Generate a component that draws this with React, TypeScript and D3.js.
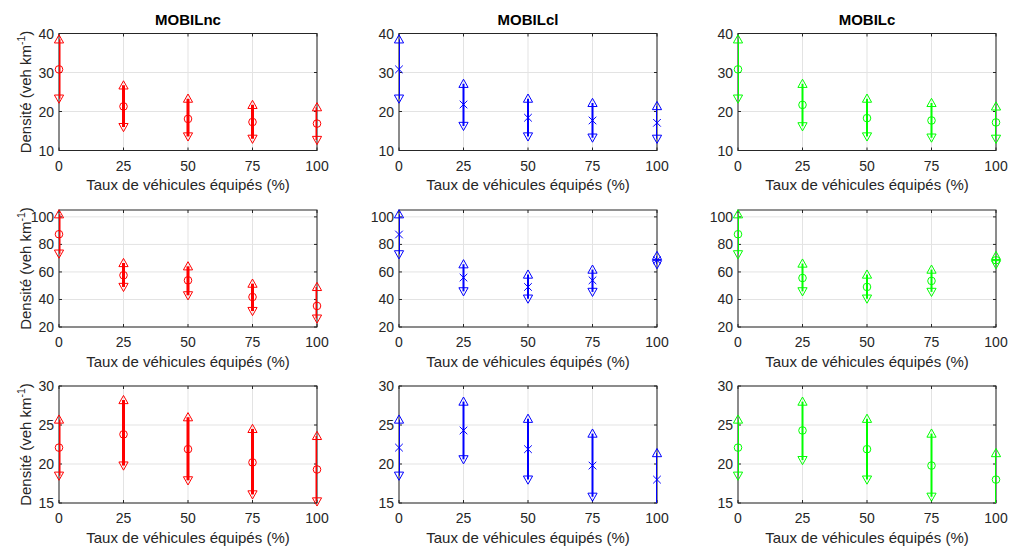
import React from "react";
import * as d3 from "d3";

// ---------- data ----------
const xValues = [0, 25, 50, 75, 100];
const xTicks = [0, 25, 50, 75, 100];
const modelNames = ["MOBILnc", "MOBILcl", "MOBILc"];
const modelColors = ["#ff0000", "#0000ff", "#00ff00"];
const modelCenterMarker = ["circle", "x", "circle"];

// row 1 (y 10..40)
const row1Domain = [10, 40];
const row1Ticks = [10, 20, 30, 40];
const r1_nc_upper = [38.5, 26.7, 23.3, 21.7, 21.1];
const r1_nc_mean = [30.8, 21.3, 18.1, 17.3, 16.9];
const r1_nc_lower = [23.3, 16.0, 13.6, 13.0, 12.7];
const r1_cl_upper = [38.5, 27.1, 23.3, 22.2, 21.4];
const r1_cl_mean = [30.8, 21.8, 18.4, 17.7, 17.1];
const r1_cl_lower = [23.3, 16.3, 13.6, 13.3, 13.0];
const r1_c_upper = [38.5, 27.1, 23.3, 22.2, 21.3];
const r1_c_mean = [30.8, 21.7, 18.3, 17.7, 17.2];
const r1_c_lower = [23.3, 16.2, 13.6, 13.3, 13.0];

// row 2 (y 20..105)
const row2Domain = [20, 105];
const row2Ticks = [20, 40, 60, 80, 100];
const r2_nc_upper = [101.9, 66.5, 64.1, 51.5, 49.1];
const r2_nc_mean = [87.4, 57.6, 53.9, 41.8, 35.3];
const r2_nc_lower = [73.3, 49.1, 43.0, 31.6, 26.1];
const r2_cl_upper = [101.9, 65.6, 58.1, 61.7, 71.6];
const r2_cl_mean = [87.2, 55.9, 49.1, 53.9, 68.5];
const r2_cl_lower = [72.8, 45.9, 40.6, 45.5, 65.6];
const r2_c_upper = [101.9, 66.1, 58.1, 61.7, 71.6];
const r2_c_mean = [87.4, 55.6, 49.1, 53.5, 68.5];
const r2_c_lower = [72.8, 45.9, 40.6, 45.5, 65.6];

// row 3 (y 15..30)
const row3Domain = [15, 30];
const row3Ticks = [15, 20, 25, 30];
const r3_nc_upper = [25.7, 28.2, 26.0, 24.5, 23.6];
const r3_nc_mean = [22.1, 23.8, 21.9, 20.2, 19.3];
const r3_nc_lower = [18.5, 19.8, 17.9, 16.1, 15.2];
const r3_cl_upper = [25.7, 28.0, 25.8, 23.9, 21.4];
const r3_cl_mean = [22.1, 24.3, 21.9, 19.8, 18.0];
const r3_cl_lower = [18.5, 20.6, 18.0, 15.8, 14.2];
const r3_c_upper = [25.7, 28.0, 25.8, 23.9, 21.4];
const r3_c_mean = [22.1, 24.3, 21.9, 19.8, 18.0];
const r3_c_lower = [18.5, 20.5, 18.0, 15.8, 14.2];

const rows = [
  {
    domain: row1Domain,
    ticks: row1Ticks,
    series: [
      [r1_nc_lower, r1_nc_mean, r1_nc_upper],
      [r1_cl_lower, r1_cl_mean, r1_cl_upper],
      [r1_c_lower, r1_c_mean, r1_c_upper],
    ],
  },
  {
    domain: row2Domain,
    ticks: row2Ticks,
    series: [
      [r2_nc_lower, r2_nc_mean, r2_nc_upper],
      [r2_cl_lower, r2_cl_mean, r2_cl_upper],
      [r2_c_lower, r2_c_mean, r2_c_upper],
    ],
  },
  {
    domain: row3Domain,
    ticks: row3Ticks,
    series: [
      [r3_nc_lower, r3_nc_mean, r3_nc_upper],
      [r3_cl_lower, r3_cl_mean, r3_cl_upper],
      [r3_c_lower, r3_c_mean, r3_c_upper],
    ],
  },
];

// ---------- layout ----------
const W = 1011;
const H = 547;
const colLeft = [59, 399, 738];
const rowTop = [33.5, 210, 386];
const axW = 258;
const axH = 117;
const lineWidths = [3, 2, 2];
const FONT = "'Liberation Sans', Arial, Helvetica, sans-serif";
const AX = "#262626";
const GRID = "#e3e3e3";

const triUp = "M0,-4.6L4.6,3.6L-4.6,3.6Z";
const triDown = "M0,4.6L4.6,-3.6L-4.6,-3.6Z";

function Panel({ r, c }: { r: number; c: number }) {
  const row = rows[r];
  const x0 = colLeft[c];
  const y0 = rowTop[r];
  const xs = d3.scaleLinear().domain([0, 100]).range([x0, x0 + axW]);
  const ys = d3.scaleLinear().domain(row.domain).range([y0 + axH, y0]);
  const [lo, mid, hi] = row.series[c];
  const color = modelColors[c];
  const clipId = `clip-${r}-${c}`;
  const inY = (v: number) => v >= row.domain[0] && v <= row.domain[1];
  const tl = 3;
  return (
    <g>
      <defs>
        <clipPath id={clipId}>
          <rect x={x0} y={y0} width={axW} height={axH} />
        </clipPath>
      </defs>
      {/* grid */}
      {xTicks.map((t) => (
        <line key={"gx" + t} x1={xs(t)} x2={xs(t)} y1={y0} y2={y0 + axH} stroke={GRID} strokeWidth={1} />
      ))}
      {row.ticks.map((t) => (
        <line key={"gy" + t} x1={x0} x2={x0 + axW} y1={ys(t)} y2={ys(t)} stroke={GRID} strokeWidth={1} />
      ))}
      {/* ticks */}
      {xTicks.map((t) => (
        <g key={"tx" + t}>
          <line x1={xs(t)} x2={xs(t)} y1={y0 + axH} y2={y0 + axH - tl} stroke={AX} />
          <line x1={xs(t)} x2={xs(t)} y1={y0} y2={y0 + tl} stroke={AX} />
          <text x={xs(t)} y={y0 + axH + 20} textAnchor="middle" fontSize={14} fill={AX} fontFamily={FONT}>
            {t}
          </text>
        </g>
      ))}
      {row.ticks.map((t) => (
        <g key={"ty" + t}>
          <line x1={x0} x2={x0 + tl} y1={ys(t)} y2={ys(t)} stroke={AX} />
          <line x1={x0 + axW} x2={x0 + axW - tl} y1={ys(t)} y2={ys(t)} stroke={AX} />
          <text x={x0 - 5} y={ys(t) + 5} textAnchor="end" fontSize={14} fill={AX} fontFamily={FONT}>
            {t}
          </text>
        </g>
      ))}
      {/* box */}
      <rect x={x0} y={y0} width={axW} height={axH} fill="none" stroke={AX} strokeWidth={1} />
      {/* error bars */}
      <g clipPath={`url(#${clipId})`}>
        {xValues.map((xv, i) => (
          <line
            key={"eb" + i}
            x1={xs(xv)}
            x2={xs(xv)}
            y1={ys(lo[i])}
            y2={ys(hi[i])}
            stroke={color}
            strokeWidth={lineWidths[c]}
          />
        ))}
      </g>
      {/* markers */}
      {xValues.map((xv, i) => (
        <g key={"mk" + i} fill="none" stroke={color} strokeWidth={1}>
          {inY(hi[i]) && <path d={triUp} transform={`translate(${xs(xv)},${ys(hi[i])})`} />}
          {inY(lo[i]) && <path d={triDown} transform={`translate(${xs(xv)},${ys(lo[i])})`} />}
          {inY(mid[i]) &&
            (modelCenterMarker[c] === "circle" ? (
              <circle cx={xs(xv)} cy={ys(mid[i])} r={3.8} />
            ) : (
              <path
                d="M-3.8,-3.8L3.8,3.8M-3.8,3.8L3.8,-3.8"
                transform={`translate(${xs(xv)},${ys(mid[i])})`}
              />
            ))}
        </g>
      ))}
      {/* x label */}
      <text
        x={x0 + axW / 2}
        y={y0 + axH + 39.5}
        textAnchor="middle"
        fontSize={15}
        fill={AX}
        fontFamily={FONT}
      >
        Taux de véhicules équipés (%)
      </text>
      {/* y label only on first column */}
      {c === 0 && (
        <text
          transform={`translate(${x0 - 28},${y0 + axH / 2}) rotate(-90)`}
          textAnchor="middle"
          fontSize={15}
          fill={AX}
          fontFamily={FONT}
        >
          Densité (veh km
          <tspan dy={-6} fontSize={10.5}>-1</tspan>
          <tspan dy={6}>)</tspan>
        </text>
      )}
      {/* title only on first row */}
      {r === 0 && (
        <text
          x={x0 + axW / 2}
          y={y0 - 8.5}
          textAnchor="middle"
          fontSize={15}
          fontWeight="bold"
          fill="#000"
          fontFamily={FONT}
        >
          {modelNames[c]}
        </text>
      )}
    </g>
  );
}

export default function App() {
  return (
    <svg
      width={W}
      height={H}
      viewBox={`0 0 ${W} ${H}`}
      style={{ position: "absolute", left: 0, top: 0, display: "block", background: "#fff" }}
    >
      <rect x={0} y={0} width={W} height={H} fill="#fff" />
      {[0, 1, 2].map((r) => [0, 1, 2].map((c) => <Panel key={`${r}-${c}`} r={r} c={c} />))}
    </svg>
  );
}
